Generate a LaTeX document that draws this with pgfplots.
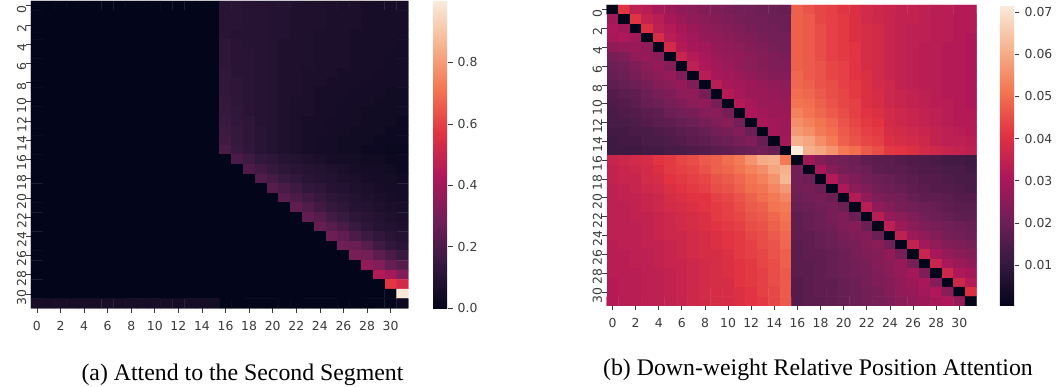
\documentclass[border=0pt]{standalone}
\usepackage{fontspec}
\usepackage{pgfplots}
\pgfplotsset{compat=1.18}
\setmainfont{Liberation Serif}
\newfontfamily\djv{DejaVu Sans}
\definecolor{tk}{HTML}{3A3A3A}
\pgfplotsset{
 colormap={rocket}{rgb255=(3,5,26) rgb255=(53,25,62) rgb255=(112,31,87) rgb255=(173,23,89) rgb255=(225,51,66) rgb255=(243,118,81) rgb255=(246,180,143) rgb255=(250,235,221)},
 hm/.style={
  scale only axis, colormap name=rocket, y dir=reverse, axis line style={draw=none},
  xmin=-0.5, xmax=31.5, ymin=-0.5, ymax=31.5,
  xtick={0,2,...,30}, ytick={0,2,...,30},
  tick align=outside, major tick length=4.5pt, tick style={color=tk, line width=0.7pt},
  xtick pos=bottom, ytick pos=left,
  ticklabel style={font=\djv\fontsize{12.4}{15}\selectfont, text=tk, /pgf/number format/assume math mode=true},
  yticklabel style={rotate=90, anchor=south, inner sep=0pt, xshift=-3.5pt},
  xticklabel style={inner sep=0pt, yshift=-8pt},
  colorbar,
 },
 mat/.style={matrix plot*, mesh/cols=32, point meta=explicit},
 cb/.style={anchor=north west, width=15pt, y dir=normal, scaled y ticks=false,
  axis line style={draw=none}, ytick pos=right, yticklabel pos=right, xtick=\empty, tick align=outside, major tick length=4.5pt, tick style={color=tk,line width=0.7pt},
  yticklabel style={rotate=0, anchor=west, inner sep=0pt, xshift=5pt, font=\djv\fontsize{12.4}{15}\selectfont, text=tk, /pgf/number format/assume math mode=true, /pgf/number format/fixed, /pgf/number format/fixed zerofill, /pgf/number format/precision=#1}},
}
\begin{document}
\begin{tikzpicture}
\path[use as bounding box] (0,0) rectangle (1058pt,387pt);
\begin{axis}[hm, at={(31pt,78.7pt)}, anchor=south west, width=377.3pt, height=307.3pt,
 point meta min=0, point meta max=1,
 colorbar style={cb=1, at={(1.0655,1)}, ytick={0,0.2,0.4,0.6,0.8}},
]
\addplot[mat] table[row sep=crcr, header=false, x expr={mod(\coordindex,32)}, y expr={floor((\coordindex+0.5)/32)}, meta index=0] {
0\\0\\0\\0\\0\\0\\0\\0\\0\\0\\0\\0\\0\\0\\0\\0\\.11\\.11\\.10\\.10\\.09\\.09\\.08\\.08\\.08\\.07\\.07\\.07\\.06\\.06\\.06\\.06\\
0\\0\\0\\0\\0\\0\\0\\0\\0\\0\\0\\0\\0\\0\\0\\0\\.11\\.11\\.10\\.10\\.09\\.09\\.08\\.08\\.08\\.07\\.07\\.07\\.06\\.06\\.06\\.06\\
0\\0\\0\\0\\0\\0\\0\\0\\0\\0\\0\\0\\0\\0\\0\\0\\.11\\.11\\.10\\.10\\.09\\.09\\.08\\.08\\.08\\.07\\.07\\.07\\.06\\.06\\.06\\.06\\
0\\0\\0\\0\\0\\0\\0\\0\\0\\0\\0\\0\\0\\0\\0\\0\\.11\\.10\\.10\\.10\\.09\\.09\\.08\\.08\\.07\\.07\\.07\\.06\\.06\\.06\\.06\\.06\\
0\\0\\0\\0\\0\\0\\0\\0\\0\\0\\0\\0\\0\\0\\0\\0\\.12\\.11\\.10\\.10\\.09\\.08\\.08\\.08\\.07\\.07\\.07\\.06\\.06\\.06\\.06\\.05\\
0\\0\\0\\0\\0\\0\\0\\0\\0\\0\\0\\0\\0\\0\\0\\0\\.12\\.11\\.11\\.10\\.09\\.08\\.08\\.08\\.07\\.07\\.07\\.06\\.06\\.06\\.05\\.05\\
0\\0\\0\\0\\0\\0\\0\\0\\0\\0\\0\\0\\0\\0\\0\\0\\.12\\.11\\.11\\.10\\.09\\.08\\.08\\.08\\.07\\.07\\.07\\.06\\.06\\.06\\.05\\.05\\
0\\0\\0\\0\\0\\0\\0\\0\\0\\0\\0\\0\\0\\0\\0\\0\\.13\\.11\\.11\\.10\\.09\\.08\\.08\\.07\\.07\\.07\\.06\\.06\\.06\\.05\\.05\\.05\\
0\\0\\0\\0\\0\\0\\0\\0\\0\\0\\0\\0\\0\\0\\0\\0\\.13\\.12\\.11\\.10\\.09\\.08\\.08\\.07\\.07\\.06\\.06\\.06\\.05\\.05\\.05\\.05\\
0\\0\\0\\0\\0\\0\\0\\0\\0\\0\\0\\0\\0\\0\\0\\0\\.13\\.12\\.11\\.10\\.09\\.08\\.08\\.07\\.06\\.06\\.06\\.05\\.05\\.05\\.04\\.04\\
0\\0\\0\\0\\0\\0\\0\\0\\0\\0\\0\\0\\0\\0\\0\\0\\.14\\.12\\.11\\.10\\.09\\.08\\.07\\.07\\.06\\.06\\.05\\.05\\.05\\.04\\.04\\.04\\
0\\0\\0\\0\\0\\0\\0\\0\\0\\0\\0\\0\\0\\0\\0\\0\\.14\\.13\\.11\\.10\\.09\\.08\\.07\\.07\\.06\\.06\\.05\\.05\\.04\\.04\\.04\\.04\\
0\\0\\0\\0\\0\\0\\0\\0\\0\\0\\0\\0\\0\\0\\0\\0\\.15\\.13\\.12\\.10\\.09\\.08\\.07\\.06\\.06\\.05\\.05\\.05\\.04\\.04\\.04\\.03\\
0\\0\\0\\0\\0\\0\\0\\0\\0\\0\\0\\0\\0\\0\\0\\0\\.16\\.14\\.12\\.11\\.09\\.08\\.07\\.06\\.06\\.05\\.05\\.04\\.04\\.04\\.03\\.03\\
0\\0\\0\\0\\0\\0\\0\\0\\0\\0\\0\\0\\0\\0\\0\\0\\.17\\.14\\.12\\.11\\.09\\.08\\.07\\.06\\.05\\.05\\.04\\.04\\.04\\.03\\.03\\.03\\
0\\0\\0\\0\\0\\0\\0\\0\\0\\0\\0\\0\\0\\0\\0\\0\\.19\\.15\\.13\\.11\\.09\\.08\\.07\\.06\\.05\\.05\\.04\\.04\\.03\\.03\\.02\\.02\\
0\\0\\0\\0\\0\\0\\0\\0\\0\\0\\0\\0\\0\\0\\0\\0\\0\\.19\\.16\\.13\\.12\\.10\\.09\\.08\\.07\\.06\\.05\\.05\\.04\\.04\\.03\\.03\\
0\\0\\0\\0\\0\\0\\0\\0\\0\\0\\0\\0\\0\\0\\0\\0\\0\\0\\.20\\.17\\.14\\.12\\.11\\.10\\.09\\.08\\.07\\.06\\.05\\.05\\.04\\.03\\
0\\0\\0\\0\\0\\0\\0\\0\\0\\0\\0\\0\\0\\0\\0\\0\\0\\0\\0\\.21\\.18\\.15\\.13\\.11\\.10\\.09\\.08\\.07\\.06\\.05\\.05\\.04\\
0\\0\\0\\0\\0\\0\\0\\0\\0\\0\\0\\0\\0\\0\\0\\0\\0\\0\\0\\0\\.22\\.19\\.16\\.13\\.12\\.10\\.09\\.08\\.07\\.06\\.05\\.05\\
0\\0\\0\\0\\0\\0\\0\\0\\0\\0\\0\\0\\0\\0\\0\\0\\0\\0\\0\\0\\0\\.23\\.20\\.17\\.14\\.12\\.11\\.09\\.08\\.07\\.06\\.05\\
0\\0\\0\\0\\0\\0\\0\\0\\0\\0\\0\\0\\0\\0\\0\\0\\0\\0\\0\\0\\0\\0\\.24\\.21\\.17\\.14\\.12\\.10\\.09\\.08\\.07\\.06\\
0\\0\\0\\0\\0\\0\\0\\0\\0\\0\\0\\0\\0\\0\\0\\0\\0\\0\\0\\0\\0\\0\\0\\.25\\.22\\.18\\.15\\.12\\.11\\.09\\.08\\.07\\
0\\0\\0\\0\\0\\0\\0\\0\\0\\0\\0\\0\\0\\0\\0\\0\\0\\0\\0\\0\\0\\0\\0\\0\\.26\\.23\\.19\\.15\\.12\\.10\\.09\\.08\\
0\\0\\0\\0\\0\\0\\0\\0\\0\\0\\0\\0\\0\\0\\0\\0\\0\\0\\0\\0\\0\\0\\0\\0\\0\\.27\\.25\\.20\\.16\\.13\\.11\\.09\\
0\\0\\0\\0\\0\\0\\0\\0\\0\\0\\0\\0\\0\\0\\0\\0\\0\\0\\0\\0\\0\\0\\0\\0\\0\\0\\.28\\.27\\.22\\.17\\.13\\.11\\
0\\0\\0\\0\\0\\0\\0\\0\\0\\0\\0\\0\\0\\0\\0\\0\\0\\0\\0\\0\\0\\0\\0\\0\\0\\0\\0\\.31\\.29\\.24\\.19\\.15\\
0\\0\\0\\0\\0\\0\\0\\0\\0\\0\\0\\0\\0\\0\\0\\0\\0\\0\\0\\0\\0\\0\\0\\0\\0\\0\\0\\0\\.36\\.33\\.26\\.22\\
0\\0\\0\\0\\0\\0\\0\\0\\0\\0\\0\\0\\0\\0\\0\\0\\0\\0\\0\\0\\0\\0\\0\\0\\0\\0\\0\\0\\0\\.44\\.41\\.33\\
0\\0\\0\\0\\0\\0\\0\\0\\0\\0\\0\\0\\0\\0\\0\\0\\0\\0\\0\\0\\0\\0\\0\\0\\0\\0\\0\\0\\0\\0\\.58\\.53\\
0\\0\\0\\0\\0\\0\\0\\0\\0\\0\\0\\0\\0\\0\\0\\0\\0\\0\\0\\0\\0\\0\\0\\0\\0\\0\\0\\0\\0\\0\\0\\.99\\
.06\\.06\\.06\\.06\\.06\\.06\\.06\\.06\\.06\\.06\\.06\\.06\\.05\\.05\\.05\\.05\\0\\0\\0\\0\\0\\0\\0\\0\\0\\0\\0\\0\\0\\0\\0\\.03\\
};
\end{axis}
\begin{axis}[hm, at={(606.7pt,81pt)}, anchor=south west, width=369.9pt, height=301pt,
 point meta min=0.0003, point meta max=0.0717,
 colorbar style={cb=2, at={(1.0632,1)}, ytick={0.01,0.02,0.03,0.04,0.05,0.06,0.07}},
]
\addplot[mat] table[row sep=crcr, header=false, x expr={mod(\coordindex,32)}, y expr={floor((\coordindex+0.5)/32)}, meta index=0] {
0\\.041\\.034\\.033\\.030\\.028\\.026\\.025\\.024\\.023\\.022\\.021\\.021\\.020\\.020\\.019\\.048\\.046\\.044\\.043\\.041\\.040\\.038\\.037\\.036\\.035\\.035\\.034\\.033\\.033\\.032\\.032\\
.029\\0\\.041\\.035\\.033\\.030\\.028\\.026\\.025\\.024\\.023\\.022\\.021\\.021\\.020\\.020\\.048\\.047\\.044\\.043\\.042\\.040\\.038\\.037\\.036\\.035\\.035\\.034\\.033\\.033\\.032\\.032\\
.031\\.029\\0\\.040\\.034\\.032\\.030\\.028\\.026\\.025\\.024\\.023\\.022\\.021\\.021\\.020\\.048\\.047\\.045\\.043\\.042\\.040\\.039\\.038\\.036\\.035\\.034\\.034\\.033\\.033\\.032\\.032\\
.030\\.031\\.029\\0\\.039\\.033\\.031\\.029\\.027\\.026\\.025\\.024\\.023\\.022\\.021\\.021\\.048\\.047\\.045\\.043\\.042\\.040\\.039\\.038\\.036\\.035\\.034\\.034\\.033\\.033\\.032\\.031\\
.026\\.027\\.028\\.026\\0\\.038\\.032\\.030\\.029\\.027\\.026\\.025\\.024\\.023\\.022\\.021\\.048\\.047\\.045\\.043\\.042\\.041\\.039\\.038\\.036\\.035\\.034\\.033\\.033\\.032\\.032\\.031\\
.022\\.023\\.026\\.027\\.025\\0\\.036\\.032\\.030\\.028\\.027\\.026\\.025\\.024\\.023\\.022\\.048\\.047\\.045\\.043\\.042\\.041\\.039\\.038\\.036\\.035\\.034\\.033\\.033\\.032\\.032\\.031\\
.020\\.021\\.023\\.025\\.027\\.024\\0\\.034\\.031\\.029\\.028\\.026\\.025\\.024\\.023\\.023\\.048\\.047\\.046\\.044\\.043\\.041\\.039\\.038\\.036\\.035\\.034\\.033\\.033\\.032\\.032\\.031\\
.019\\.020\\.022\\.024\\.025\\.027\\.023\\0\\.033\\.030\\.029\\.028\\.026\\.025\\.024\\.024\\.049\\.047\\.046\\.044\\.043\\.041\\.040\\.038\\.036\\.035\\.034\\.033\\.033\\.032\\.032\\.031\\
.018\\.019\\.020\\.022\\.024\\.025\\.027\\.023\\0\\.033\\.030\\.029\\.028\\.027\\.026\\.025\\.049\\.048\\.046\\.045\\.043\\.042\\.040\\.038\\.037\\.035\\.034\\.033\\.033\\.032\\.032\\.031\\
.016\\.017\\.018\\.020\\.022\\.023\\.025\\.026\\.022\\0\\.032\\.030\\.028\\.028\\.027\\.026\\.050\\.049\\.047\\.045\\.044\\.042\\.040\\.039\\.037\\.036\\.035\\.034\\.033\\.032\\.032\\.031\\
.015\\.016\\.017\\.019\\.020\\.022\\.023\\.025\\.026\\.022\\0\\.032\\.030\\.028\\.028\\.027\\.051\\.050\\.048\\.046\\.044\\.043\\.040\\.039\\.037\\.036\\.035\\.034\\.033\\.033\\.032\\.031\\
.014\\.015\\.016\\.017\\.018\\.020\\.021\\.022\\.024\\.025\\.022\\0\\.031\\.029\\.028\\.028\\.053\\.051\\.049\\.047\\.045\\.043\\.041\\.040\\.038\\.037\\.036\\.035\\.034\\.033\\.032\\.032\\
.014\\.014\\.015\\.016\\.017\\.018\\.019\\.020\\.022\\.023\\.025\\.021\\0\\.030\\.029\\.028\\.055\\.053\\.051\\.049\\.046\\.044\\.042\\.041\\.038\\.037\\.036\\.035\\.034\\.033\\.032\\.032\\
.013\\.013\\.014\\.014\\.015\\.016\\.017\\.018\\.019\\.021\\.022\\.024\\.020\\0\\.029\\.028\\.057\\.055\\.052\\.050\\.047\\.045\\.043\\.042\\.039\\.038\\.037\\.036\\.035\\.034\\.033\\.032\\
.012\\.013\\.013\\.014\\.014\\.015\\.016\\.017\\.018\\.019\\.020\\.022\\.023\\.019\\0\\.029\\.061\\.059\\.055\\.052\\.048\\.046\\.044\\.043\\.040\\.039\\.038\\.037\\.035\\.034\\.034\\.033\\
.012\\.012\\.012\\.013\\.013\\.014\\.014\\.015\\.016\\.017\\.018\\.019\\.020\\.021\\.019\\0\\.072\\.061\\.059\\.056\\.052\\.050\\.047\\.045\\.042\\.041\\.040\\.038\\.037\\.036\\.035\\.034\\
.036\\.037\\.038\\.039\\.041\\.042\\.044\\.045\\.047\\.048\\.050\\.052\\.056\\.060\\.061\\.052\\0\\.028\\.024\\.022\\.021\\.020\\.018\\.017\\.017\\.016\\.015\\.015\\.014\\.013\\.013\\.012\\
.035\\.036\\.037\\.038\\.040\\.042\\.043\\.044\\.046\\.048\\.049\\.051\\.053\\.055\\.059\\.061\\.021\\0\\.030\\.024\\.022\\.021\\.020\\.018\\.017\\.017\\.016\\.015\\.015\\.014\\.014\\.013\\
.035\\.036\\.036\\.038\\.039\\.041\\.042\\.043\\.044\\.046\\.047\\.049\\.051\\.053\\.056\\.062\\.021\\.020\\0\\.032\\.025\\.023\\.021\\.020\\.019\\.018\\.017\\.016\\.016\\.015\\.014\\.014\\
.034\\.035\\.036\\.037\\.038\\.040\\.041\\.042\\.043\\.045\\.046\\.048\\.050\\.051\\.054\\.057\\.021\\.022\\.020\\0\\.031\\.025\\.023\\.021\\.020\\.019\\.018\\.017\\.016\\.016\\.015\\.014\\
.034\\.035\\.035\\.036\\.037\\.039\\.040\\.041\\.041\\.043\\.044\\.046\\.048\\.050\\.052\\.054\\.020\\.021\\.022\\.020\\0\\.032\\.026\\.023\\.022\\.021\\.019\\.018\\.018\\.017\\.016\\.016\\
.034\\.034\\.035\\.036\\.037\\.038\\.039\\.040\\.041\\.042\\.043\\.045\\.047\\.048\\.051\\.052\\.019\\.020\\.021\\.022\\.020\\0\\.033\\.026\\.024\\.022\\.021\\.020\\.019\\.018\\.017\\.017\\
.034\\.034\\.035\\.035\\.036\\.037\\.038\\.039\\.040\\.042\\.043\\.044\\.046\\.047\\.049\\.051\\.018\\.019\\.020\\.022\\.023\\.020\\0\\.033\\.027\\.025\\.023\\.021\\.020\\.019\\.018\\.018\\
.034\\.034\\.034\\.035\\.036\\.037\\.038\\.039\\.040\\.041\\.042\\.043\\.045\\.046\\.048\\.050\\.018\\.019\\.020\\.021\\.023\\.024\\.020\\0\\.034\\.028\\.025\\.023\\.022\\.021\\.020\\.019\\
.034\\.034\\.034\\.035\\.036\\.037\\.037\\.038\\.039\\.040\\.041\\.042\\.044\\.045\\.047\\.049\\.018\\.018\\.019\\.020\\.022\\.023\\.024\\.020\\0\\.034\\.028\\.026\\.024\\.022\\.021\\.020\\
.033\\.034\\.034\\.035\\.035\\.036\\.037\\.038\\.039\\.040\\.041\\.042\\.043\\.045\\.046\\.049\\.017\\.018\\.019\\.020\\.021\\.022\\.024\\.025\\.021\\0\\.035\\.029\\.026\\.024\\.023\\.022\\
.033\\.033\\.034\\.034\\.035\\.036\\.037\\.038\\.039\\.039\\.040\\.042\\.043\\.044\\.046\\.048\\.017\\.018\\.018\\.019\\.020\\.022\\.023\\.024\\.026\\.022\\0\\.036\\.030\\.027\\.025\\.024\\
.033\\.033\\.034\\.034\\.035\\.036\\.036\\.037\\.038\\.039\\.040\\.041\\.042\\.044\\.045\\.048\\.017\\.017\\.018\\.019\\.020\\.021\\.022\\.024\\.025\\.027\\.022\\0\\.036\\.030\\.028\\.026\\
.033\\.033\\.033\\.034\\.034\\.035\\.036\\.037\\.038\\.039\\.040\\.041\\.042\\.043\\.045\\.047\\.017\\.017\\.018\\.019\\.020\\.021\\.022\\.023\\.025\\.027\\.029\\.023\\0\\.037\\.031\\.029\\
.032\\.033\\.033\\.034\\.034\\.035\\.036\\.037\\.038\\.039\\.039\\.041\\.042\\.043\\.045\\.047\\.016\\.017\\.018\\.018\\.019\\.020\\.022\\.023\\.024\\.026\\.028\\.030\\.024\\0\\.037\\.032\\
.032\\.033\\.033\\.034\\.034\\.035\\.036\\.037\\.038\\.039\\.039\\.040\\.041\\.043\\.044\\.047\\.016\\.017\\.018\\.018\\.019\\.020\\.021\\.022\\.024\\.026\\.027\\.029\\.031\\.025\\0\\.040\\
.032\\.033\\.033\\.034\\.034\\.035\\.036\\.037\\.038\\.039\\.039\\.040\\.041\\.042\\.044\\.047\\.016\\.017\\.017\\.018\\.019\\.020\\.021\\.022\\.023\\.025\\.026\\.028\\.030\\.031\\.027\\0\\
};
\end{axis}
\node[anchor=center, font=\fontsize{23.8}{26}\selectfont, text=black] at (242.5pt,12.5pt) {(a) Attend to the Second Segment};
\node[anchor=center, font=\fontsize{23.8}{26}\selectfont, text=black] at (818pt,17.5pt) {(b) Down-weight Relative Position Attention};
\end{tikzpicture}
\end{document}
